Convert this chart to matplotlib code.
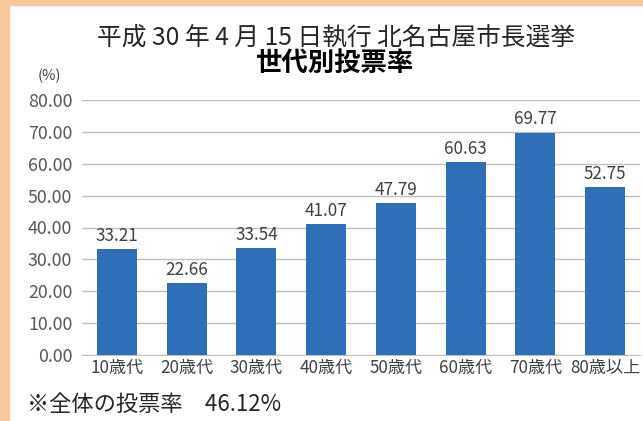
import matplotlib
matplotlib.use("Agg")
import matplotlib.pyplot as plt
from matplotlib.patches import Rectangle

plt.rcParams['font.family'] = ['Noto Sans CJK JP', 'DejaVu Sans']

ages = ['10歳代', '20歳代', '30歳代', '40歳代', '50歳代', '60歳代', '70歳代', '80歳以上']
rates = [33.21, 22.66, 33.54, 41.07, 47.79, 60.63, 69.77, 52.75]
yticks = [0, 10, 20, 30, 40, 50, 60, 70, 80]
overall = 46.12

fig = plt.figure(figsize=(6.43, 4.21), dpi=100)
# peach frame on top and left
fig.patches.append(Rectangle((0, 0), 9 / 643, 1, transform=fig.transFigure,
                             color='#F8C79A', zorder=0))
fig.patches.append(Rectangle((0, 1 - 5 / 421), 1, 5 / 421, transform=fig.transFigure,
                             color='#F8C79A', zorder=0))

ax = fig.add_axes([82 / 643, 66 / 421, 558 / 643, 255 / 421])
x = range(len(ages))
bars = ax.bar(x, rates, width=0.57, color='#2F6FB7', zorder=3)
for b, v in zip(bars, rates):
    ax.text(b.get_x() + b.get_width() / 2, v + 1.3, f'{v:.2f}', ha='center', va='bottom',
            fontsize=12.3, color='#404040')

ax.set_xlim(-0.5, len(ages) - 0.5)
ax.set_ylim(0, 80)
ax.set_yticks(yticks)
ax.set_yticklabels([f'{t:.2f}' for t in yticks], fontsize=12.8, color='#595959')
ax.set_xticks(list(x))
ax.set_xticklabels(ages, fontsize=12.3, color='#404040')
ax.tick_params(axis='both', length=0, pad=3)
ax.tick_params(axis='y', pad=7)
ax.grid(axis='y', color='#BFBFBF', linewidth=1, zorder=0)
for s in ['top', 'right', 'left']:
    ax.spines[s].set_visible(False)
ax.spines['bottom'].set_color('#BFBFBF')

fig.text(336 / 643, 1 - 38 / 421, '平成 30 年 4 月 15 日執行 北名古屋市長選挙', ha='center', va='center',
         fontsize=17.8, color='#262626')
fig.text(334 / 643, 1 - 63 / 421, '世代別投票率', ha='center', va='center',
         fontsize=19, fontweight='bold', color='#000000')
fig.text(49 / 643, 1 - 76 / 421, '(%)', ha='center', va='center', fontsize=10.5, color='#404040')
fig.text(27 / 643, 1 - 404 / 421, f'※全体の投票率　{overall:.2f}%', ha='left', va='center',
         fontsize=16, color='#262626')

fig.savefig('out.png', dpi=100, facecolor='white')
